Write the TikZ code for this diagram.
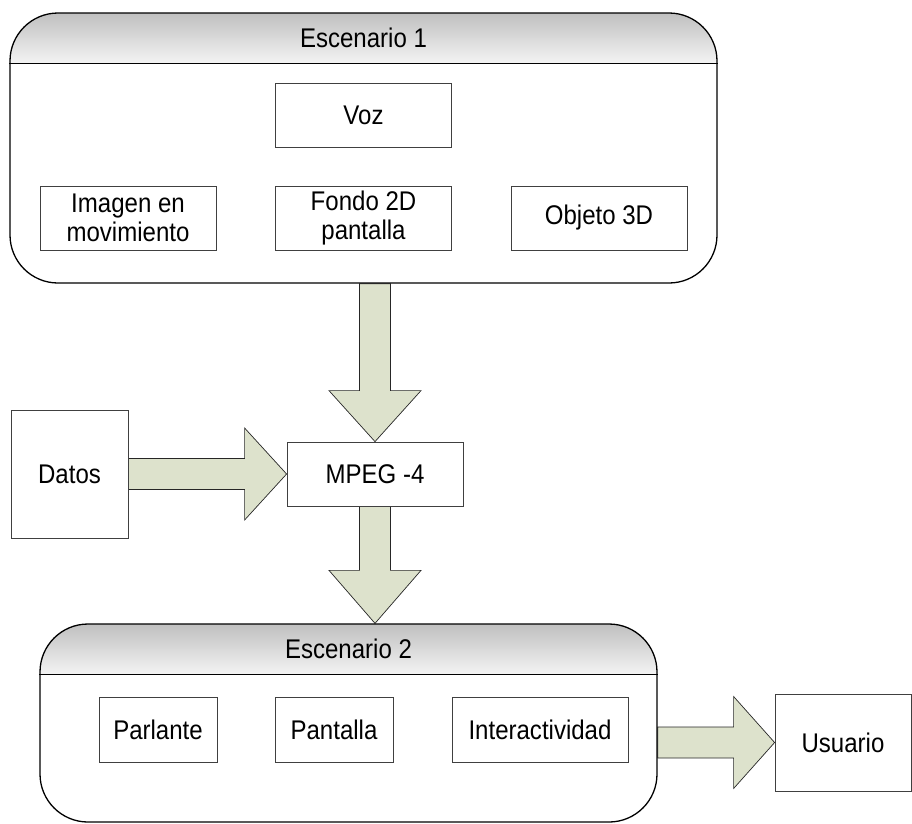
\documentclass[tikz,border=0pt]{standalone}
\usepackage{fontspec}
\setmainfont{Liberation Sans}[FakeStretch=0.89]
\usetikzlibrary{calc}
\pgfdeclarelayer{bg}
\pgfsetlayers{bg,main}

\definecolor{arrowfill}{RGB}{221,226,204}
\definecolor{boxline}{RGB}{64,64,64}
\definecolor{headtop}{RGB}{192,192,192}
\definecolor{headbottom}{RGB}{243,243,243}

% thick block arrow pointing down, from #1 to tip #2, head length #3
\newcommand{\vblock}[3]{%
  \begin{pgfonlayer}{bg}
  \draw[blockarrow] ($(#1)+(-15.5,0)$) -- ($(#2)+(-15.5,-#3)$) -- ($(#2)+(-46,-#3)$)
    -- (#2) -- ($(#2)+(46,-#3)$) -- ($(#2)+(15.5,-#3)$) -- ($(#1)+(15.5,0)$) -- cycle;
  \end{pgfonlayer}}
% thick block arrow pointing right, from #1 to tip #2, head length #3
\newcommand{\hblock}[3]{%
  \begin{pgfonlayer}{bg}
  \draw[blockarrow] ($(#1)+(0,-15.5)$) -- ($(#2)+(-#3,-15.5)$) -- ($(#2)+(-#3,-46)$)
    -- (#2) -- ($(#2)+(-#3,46)$) -- ($(#2)+(-#3,15.5)$) -- ($(#1)+(0,15.5)$) -- cycle;
  \end{pgfonlayer}}

% vertical grey-to-white band for the title strip of a container
\newcommand{\headband}{%
  \foreach \i in {0,...,50}{%
    \pgfmathsetmacro\pc{2*\i}%
    \pgfmathsetmacro\yb{\i+1.3}%
    \fill[sharp corners, headbottom!\pc!headtop]
      ([yshift=-\i pt]path picture bounding box.north west) rectangle
      ([yshift=-\yb pt]path picture bounding box.north east);}}

\tikzset{
  itembox/.style={draw=boxline, line width=0.8pt, fill=white, minimum width=176pt,
    minimum height=64pt, align=center, inner sep=0pt},
  container/.style={draw=black, line width=1.3pt, rounded corners=48pt, inner sep=0pt,
    path picture={\headband}},
  headline/.style={draw=black, line width=1.3pt},
  blockarrow/.style={draw=black!85, line width=0.7pt, fill=arrowfill, line join=miter},
}

\begin{document}
\begin{tikzpicture}[x=1pt, y=-1pt, font=\fontsize{27pt}{29pt}\selectfont]
\useasboundingbox (0,0) rectangle (912,823);

% Escenario 1
\node[container, minimum width=707pt, minimum height=270pt] (esc1) at (363.5,148) {};
\draw[headline] ([yshift=-51pt]esc1.north west) -- ([yshift=-51pt]esc1.north east);
\node (t1) at ([yshift=-25.5pt]esc1.north) {Escenario 1};
\node[itembox] (voz) at (363.5,115.5) {Voz};
\node[itembox] (imagen) at (128,218) {Imagen en\\movimiento};
\node[itembox] (fondo) at (363.5,218) {Fondo 2D\\pantalla};
\node[itembox] (objeto) at (599,218) {Objeto 3D};

% Centre
\node[itembox, minimum width=117pt, minimum height=128pt] (datos) at (69.5,474) {Datos};
\node[itembox] (mpeg) at (375,474) {MPEG -4};

% Escenario 2
\node[container, minimum width=617pt, minimum height=198pt] (esc2) at (348.5,723) {};
\draw[headline] ([yshift=-51pt]esc2.north west) -- ([yshift=-51pt]esc2.north east);
\node (t2) at ([yshift=-25.5pt]esc2.north) {Escenario 2};
\node[itembox, minimum width=118pt, minimum height=65pt] (parlante) at (158,729.5) {Parlante};
\node[itembox, minimum width=118pt, minimum height=65pt] (pantalla) at (334,729.5) {Pantalla};
\node[itembox, minimum height=65pt] (inter) at (540,729.5) {Interactividad};

\node[itembox, minimum width=136pt, minimum height=97pt] (usuario) at (843,742.5) {Usuario};

% Flow arrows
\coordinate (s1) at (esc1.south -| mpeg.north);
\coordinate (e2) at (esc2.north -| mpeg.south);
\coordinate (s3) at (esc2.east |- usuario.west);
\vblock{s1}{mpeg.north}{51}
\vblock{mpeg.south}{e2}{53}
\hblock{datos.east}{mpeg.west}{42}
\hblock{s3}{usuario.west}{41}
\end{tikzpicture}
\end{document}
